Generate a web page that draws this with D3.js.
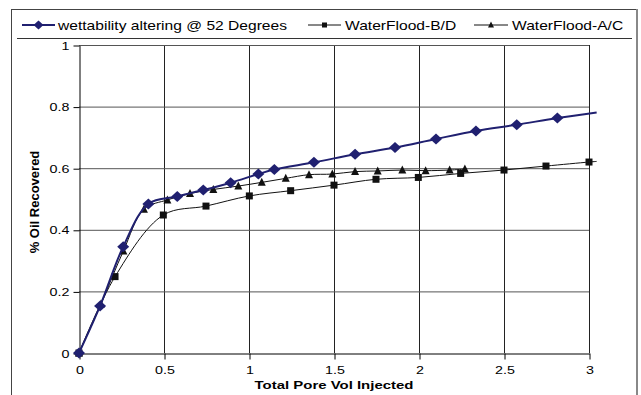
<!DOCTYPE html>
<html>
<head>
  <meta charset="utf-8">
  <script src="https://cdn.jsdelivr.net/npm/d3@7/dist/d3.min.js"></script>
  <style>
    body { margin: 0; background: #fff; }
    svg { display: block; font-family: "Liberation Sans", Arial, sans-serif; }
  </style>
</head>
<body>
  <svg id="chart" width="641" height="395"></svg>
  <script>
    // series data (x = pore volumes, y = fraction recovered)
    var wettX = [0, 0.124, 0.26, 0.408, 0.578, 0.731, 0.892, 1.055, 1.149, 1.382, 1.624, 1.859, 2.1, 2.335, 2.575, 2.814, 3.045];
    var wettY = [0, 0.153, 0.345, 0.484, 0.508, 0.529, 0.553, 0.581, 0.596, 0.619, 0.645, 0.667, 0.695, 0.721, 0.741, 0.763, 0.781];
    var bdX = [0, 0.212, 0.496, 0.747, 1.002, 1.245, 1.5, 1.747, 1.996, 2.245, 2.5, 2.747, 3.0, 3.045];
    var bdY = [0, 0.248, 0.448, 0.477, 0.51, 0.527, 0.545, 0.564, 0.57, 0.583, 0.594, 0.607, 0.62, 0.622];
    var acX = [0, 0.129, 0.261, 0.382, 0.52, 0.653, 0.79, 0.937, 1.075, 1.216, 1.353, 1.49, 1.624, 1.757, 1.902, 2.039, 2.18, 2.27];
    var acY = [0, 0.159, 0.331, 0.467, 0.497, 0.518, 0.531, 0.542, 0.554, 0.567, 0.579, 0.581, 0.589, 0.591, 0.594, 0.592, 0.594, 0.597];
    var xTicks = [0, 0.5, 1, 1.5, 2, 2.5, 3];
    var yTicks = [0, 0.2, 0.4, 0.6, 0.8, 1];
    var seriesNames = ['wettability altering @ 52 Degrees', 'WaterFlood-B/D', 'WaterFlood-A/C'];

    var navy = '#202070';
    var sx = 1.3; // the picture is stretched sideways, so is its text

    var svg = d3.select('#chart');
    var x = d3.scaleLinear().domain([0, 3]).range([79, 589]);
    var y = d3.scaleLinear().domain([0, 1]).range([353, 45]);

    function pts(xs, ys) { return xs.map(function (v, i) { return [v, ys[i]]; }); }

    function stretchedText(px, py, str, size, anchor, weight) {
      return svg.append('text')
        .attr('transform', 'translate(' + px + ',' + py + ') scale(' + sx + ',1)')
        .attr('text-anchor', anchor)
        .attr('font-size', size)
        .attr('font-weight', weight || 'normal')
        .attr('fill', '#000')
        .text(str);
    }

    // outer frame + legend strip
    svg.append('rect')
      .attr('x', 11.5).attr('y', 9.5).attr('width', 625).attr('height', 400)
      .attr('fill', 'none').attr('stroke', '#444');
    svg.append('line')
      .attr('x1', 637).attr('x2', 637).attr('y1', 9).attr('y2', 395)
      .attr('stroke', '#888').attr('stroke-width', 2);
    svg.append('line')
      .attr('x1', 17).attr('x2', 632).attr('y1', 38.5).attr('y2', 38.5)
      .attr('stroke', '#333');

    // grid
    svg.append('g').selectAll('line')
      .data(xTicks.slice(1))
      .enter().append('line')
      .attr('x1', function (d) { return x(d) + 0.5; })
      .attr('x2', function (d) { return x(d) + 0.5; })
      .attr('y1', y(1)).attr('y2', y(0))
      .attr('stroke', '#222');
    svg.append('g').selectAll('line')
      .data(yTicks.slice(1))
      .enter().append('line')
      .attr('x1', x(0)).attr('x2', x(3))
      .attr('y1', function (d) { return y(d) + 0.5; })
      .attr('y2', function (d) { return y(d) + 0.5; })
      .attr('stroke', '#555');

    // axes
    var fmt = function (d) { return String(+d.toFixed(1)); };
    var yAxis = svg.append('g')
      .attr('transform', 'translate(' + (x(0) + 0.5) + ',0.5)')
      .call(d3.axisLeft(y).tickValues(yTicks).tickSize(6).tickPadding(4).tickSizeOuter(0).tickFormat(fmt));
    var xAxis = svg.append('g')
      .attr('transform', 'translate(0.5,' + (y(0) + 0.5) + ')')
      .call(d3.axisBottom(x).tickValues(xTicks).tickSize(6).tickPadding(5).tickSizeOuter(0).tickFormat(fmt));
    [yAxis, xAxis].forEach(function (g) {
      g.select('.domain').attr('stroke', '#000');
      g.selectAll('.tick line').attr('stroke', '#000');
      g.selectAll('text').attr('font-size', 11).attr('font-family', '"Liberation Sans", Arial, sans-serif').attr('fill', '#000');
    });
    yAxis.selectAll('text').attr('x', null).attr('transform', 'translate(-10,0) scale(' + sx + ',1)');
    xAxis.selectAll('text').attr('y', null).attr('dy', null)
      .attr('transform', 'translate(0,20) scale(' + sx + ',1)');

    // axis titles
    stretchedText(334, 389, 'Total Pore Vol Injected', 11.5, 'middle', 'bold');
    svg.append('text')
      .attr('transform', 'translate(39,202) rotate(-90)')
      .attr('text-anchor', 'middle')
      .attr('font-size', 13)
      .attr('font-weight', 'bold')
      .text('% Oil Recovered');

    // markers
    function diamond(g, w, h) {
      return g.append('path').attr('d', 'M0,' + (-h) + 'L' + w + ',0L0,' + h + 'L' + (-w) + ',0Z');
    }
    function square(g, s) {
      return g.append('rect').attr('x', -s / 2).attr('y', -s / 2).attr('width', s).attr('height', s);
    }
    function triangle(g, w, h) {
      return g.append('path').attr('d', 'M0,' + (-h / 2 - 1) + 'L' + (w / 2) + ',' + (h / 2) + 'L' + (-w / 2) + ',' + (h / 2) + 'Z');
    }

    var line = d3.line()
      .x(function (d) { return x(d[0]); })
      .y(function (d) { return y(d[1]); })
      .curve(d3.curveCatmullRom.alpha(0.5));

    var series = [
      { data: pts(acX, acY), color: '#111', width: 1, mark: function (g) { triangle(g, 8, 7); } },
      { data: pts(bdX, bdY), color: '#111', width: 1, mark: function (g) { square(g, 7); } },
      { data: pts(wettX, wettY), color: navy, width: 2, mark: function (g) { diamond(g, 6, 5.5); } }
    ];

    series.forEach(function (s) {
      svg.append('path')
        .attr('d', line(s.data))
        .attr('fill', 'none')
        .attr('stroke', s.color)
        .attr('stroke-width', s.width);
      svg.append('g').selectAll('g')
        .data(s.data.filter(function (d) { return d[0] <= 3; }))
        .enter().append('g')
        .attr('transform', function (d) { return 'translate(' + x(d[0]) + ',' + y(d[1]) + ')'; })
        .attr('fill', s.color)
        .each(function () { s.mark(d3.select(this)); });
    });

    // legend
    var legendItems = [
      { x1: 22, x2: 55, tx: 58, color: navy, width: 2, mark: function (g) { diamond(g, 5, 4.5); } },
      { x1: 308, x2: 341, tx: 345, color: '#111', width: 1, mark: function (g) { square(g, 5); } },
      { x1: 474, x2: 508, tx: 512, color: '#111', width: 1, mark: function (g) { triangle(g, 6, 5); } }
    ];
    legendItems.forEach(function (l, i) {
      svg.append('line')
        .attr('x1', l.x1).attr('x2', l.x2).attr('y1', 25).attr('y2', 25)
        .attr('stroke', l.color).attr('stroke-width', l.width);
      var g = svg.append('g')
        .attr('transform', 'translate(' + (l.x1 + l.x2) / 2 + ',25)')
        .attr('fill', l.color);
      l.mark(g);
      stretchedText(l.tx, 29.5, seriesNames[i], 12, 'start');
    });
  </script>
</body>
</html>
